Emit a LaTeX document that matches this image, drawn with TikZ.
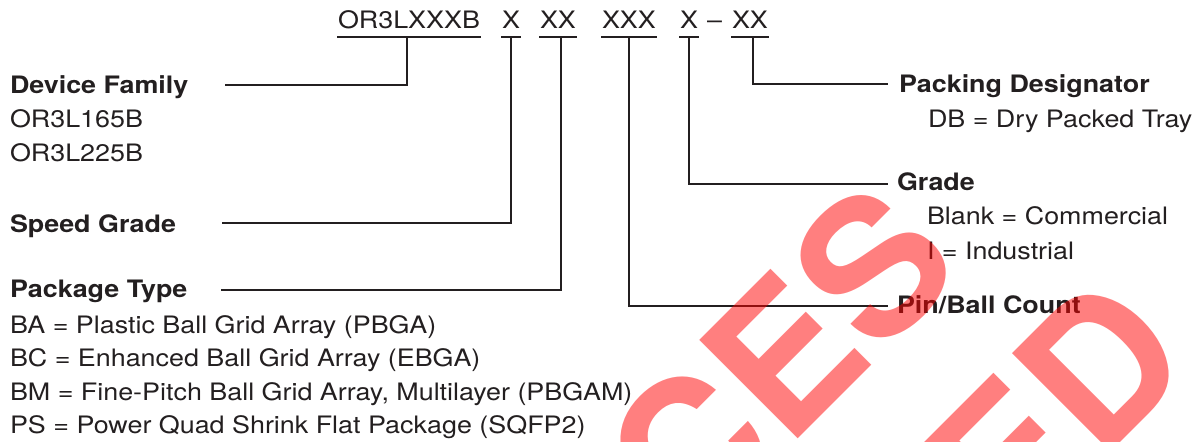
\documentclass[tikz,border=0pt]{standalone}
\usepackage{fontspec}
\setmainfont{TeX Gyre Heros}[FakeStretch=1.12]
\newfontfamily\wmfont{TeX Gyre Heros}
\usetikzlibrary{calc}
\definecolor{ink}{HTML}{231F20}
\begin{document}
\begin{tikzpicture}[x=1pt,y=-1pt,
  lbl/.style={anchor=base west,inner sep=0pt,outer sep=0pt,text=ink,font=\fontsize{24}{28}\selectfont},
  hd/.style={lbl,font=\fontsize{24}{28}\selectfont\bfseries},
  code/.style={lbl},
  conn/.style={draw=ink,line width=1.1pt},
  uline/.style={draw=ink,line width=1.1pt},
  wm/.style={anchor=base west,inner sep=0pt,outer sep=0pt,rotate=45,text=red,text opacity=0.5,font=\wmfont\bfseries\fontsize{191}{191}\selectfont}]
\useasboundingbox (0,0) rectangle (1203,442);
\clip (0,0) rectangle (1203,442);
\fill[white] (0,0) rectangle (1203,442);

% part number codes
\node[code] (c1) at (338,28) {OR3LXXXB};
\node[code] (c2) at (502,28) {X};
\node[code] (c3) at (540,28) {XX};
\node[code] (c4) at (602,28) {XXX};
\node[code] (c5) at (680,28) {X};
\node[code] (dash) at (707,28) {\textendash};
\node[code] (c6) at (732,28) {XX};
\foreach \n in {c1,c2,c3,c4,c5,c6}{
  \draw[uline] ($(\n.base west)+(-1,9)$) -- ($(\n.base east)+(1,9)$);
}

% labels left
\node[hd] (devfam) at (10,93) {Device Family};
\node[lbl] (d1) at (10,127) {OR3L165B};
\node[lbl] (d2) at (10,161) {OR3L225B};
\node[hd] (speed) at (10,232) {Speed Grade};
\node[hd] (pkg) at (10,297) {Package Type};
\node[lbl] (p1) at (10,333) {BA = Plastic Ball Grid Array (PBGA)};
\node[lbl] (p2) at (10,366.5) {BC = Enhanced Ball Grid Array (EBGA)};
\node[lbl] (p3) at (10,400) {BM = Fine-Pitch Ball Grid Array, Multilayer (PBGAM)};
\node[lbl] (p4) at (10,433.5) {PS = Power Quad Shrink Flat Package (SQFP2)};

% labels right
\node[hd] (packd) at (899,92) {Packing Designator};
\node[lbl] (db) at (928,127) {DB = Dry Packed Tray};
\node[hd] (grade) at (897,190) {Grade};
\node[lbl] (g1) at (927,224) {Blank = Commercial};
\node[lbl] (g2) at (927,259) {I = Industrial};
\node[hd] (pin) at (897,313) {Pin/Ball Count};

% connectors
\coordinate (u1) at (407,37); \coordinate (l1) at (225,85);
\coordinate (u2) at (511,37); \coordinate (l2) at (222,223);
\coordinate (u3) at (561,37); \coordinate (l3) at (221,290);
\coordinate (u4) at (629,37); \coordinate (r4) at (888,306);
\coordinate (u5) at (689,37); \coordinate (r5) at (888,184);
\coordinate (u6) at (753,37); \coordinate (r6) at (888,84);
\draw[conn] (u1) |- (l1);
\draw[conn] (u2) |- (l2);
\draw[conn] (u3) |- (l3);
\draw[conn] (u4) |- (r4);
\draw[conn] (u5) |- (r5);
\draw[conn] (u6) |- (r6);

% watermark
\node[wm] (wm1) at (689.5,547.5) {CES};
\node[wm] (wm2) at (1010,553) {ED};
\end{tikzpicture}
\end{document}
